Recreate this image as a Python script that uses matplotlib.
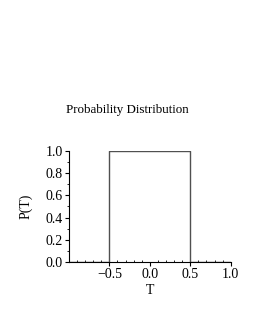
import numpy as np
import matplotlib.pyplot as plt
from matplotlib.ticker import MultipleLocator

# box distribution P(T)
T = [-1.0, -0.5, -0.5, 0.5, 0.5, 1.0]
P = [0.0, 0.0, 1.0, 1.0, 0.0, 0.0]

x_ticks = [-0.5, 0.0, 0.5, 1.0]
y_ticks = [0.0, 0.2, 0.4, 0.6, 0.8, 1.0]

plt.rcParams['font.family'] = ['Liberation Serif', 'DejaVu Serif']

fig = plt.figure(figsize=(2.55, 3.3), dpi=100)
ax = fig.add_axes([0.27, 0.206, 0.635, 0.337])

ax.plot(T, P, color='#505050', lw=1.0)

ax.set_xlim(-1.0, 1.0)
ax.set_ylim(0.0, 1.0)
ax.set_xticks(x_ticks)
ax.set_xticklabels(['\u22120.5', '0.0', '0.5', '1.0'])
ax.set_yticks(y_ticks)
ax.xaxis.set_minor_locator(MultipleLocator(0.1))
ax.yaxis.set_minor_locator(MultipleLocator(0.1))
ax.tick_params(which='major', length=3, width=0.8, labelsize=10, pad=1.5)
ax.tick_params(which='minor', length=1.5, width=0.6)
ax.tick_params(axis='x', which='minor', direction='in')
for s in ['top', 'right']:
    ax.spines[s].set_visible(False)
for s in ['left', 'bottom']:
    ax.spines[s].set_linewidth(0.8)

ax.set_xlabel('T', fontsize=10, labelpad=2)
ax.set_ylabel('P(T)', fontsize=10, labelpad=9)
fig.text(0.5, 0.667, 'Probability Distribution', ha='center', va='center', fontsize=9.4)

fig.savefig('out.png', dpi=100)
